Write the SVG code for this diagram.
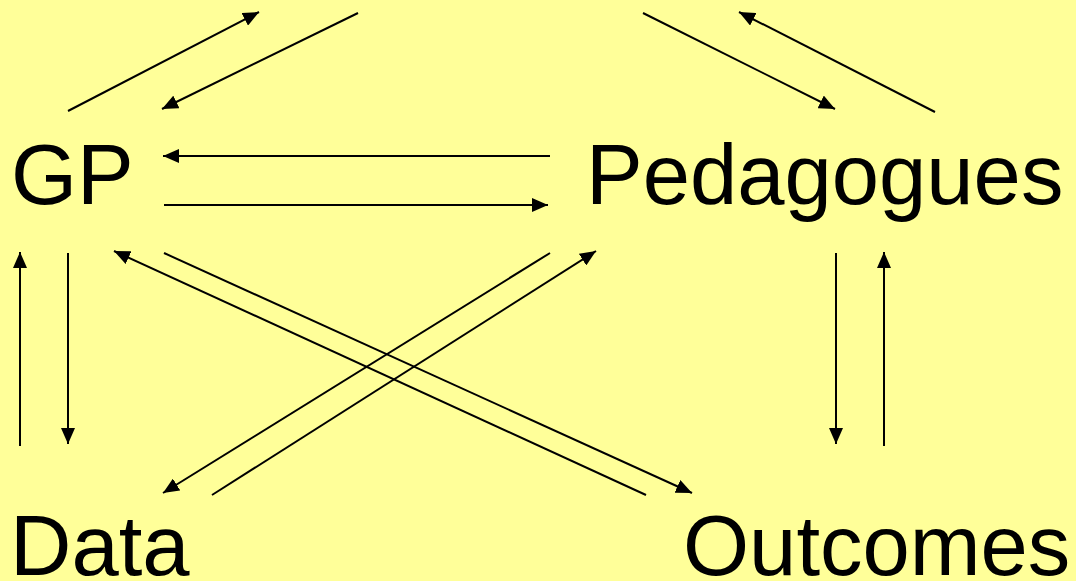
<svg xmlns="http://www.w3.org/2000/svg" width="1076" height="581" viewBox="0 0 1076 581">
<defs>
<style>
.lbl{font-family:"Liberation Sans",Arial,sans-serif;font-size:85px;fill:#000}
.c line{stroke:#000;stroke-width:2;marker-end:url(#ah)}
</style>
<marker id="ah" markerUnits="userSpaceOnUse" markerWidth="16" markerHeight="14" refX="16" refY="7" orient="auto">
<path d="M0,0 L16,7 L0,14 z" fill="#000"/>
</marker>
</defs>
<rect width="1076" height="581" fill="#FFFF99"/>
<g id="connectors" class="c">
<line x1="68" y1="111" x2="259" y2="12"/>
<line x1="358" y1="13" x2="162" y2="109"/>
<line x1="643" y1="13" x2="835" y2="109"/>
<line x1="935" y1="112" x2="739" y2="12"/>
<line x1="550" y1="156" x2="163" y2="156"/>
<line x1="164" y1="205" x2="548" y2="205"/>
<line x1="20" y1="446" x2="20" y2="252"/>
<line x1="68" y1="253" x2="68" y2="444"/>
<line x1="836" y1="253" x2="836" y2="444"/>
<line x1="884" y1="446" x2="884" y2="252"/>
<line x1="164" y1="253" x2="692" y2="493"/>
<line x1="646" y1="495" x2="114" y2="251"/>
<line x1="550" y1="253" x2="163" y2="493"/>
<line x1="212" y1="495" x2="596" y2="251"/>
</g>
<g id="gp"><text class="lbl" x="11" y="204">GP</text></g>
<g id="pedagogues"><text class="lbl" x="586" y="204">Pedagogues</text></g>
<g id="data"><text class="lbl" x="10" y="575">Data</text></g>
<g id="outcomes"><text class="lbl" x="683" y="575">Outcomes</text></g>
</svg>
